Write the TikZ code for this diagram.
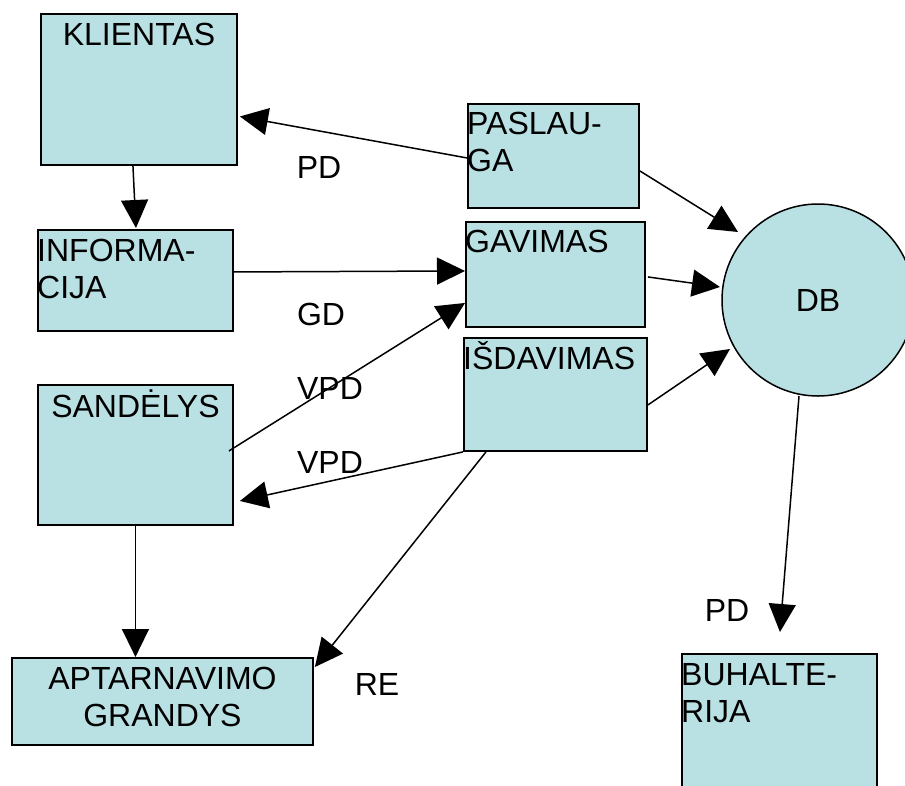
\documentclass[tikz,border=0pt]{standalone}
\usepackage{fontspec}
\setmainfont{Liberation Sans}
\usetikzlibrary{arrows.meta}
\definecolor{boxfill}{RGB}{185,224,227}
% two-line captions whose baseline is that of the first line
\newcommand{\linesleft}[2]{\vtop{\hbox{#1}\hbox{#2}}}
\newcommand{\linescentre}[2]{\vtop{\halign{\hfil##\hfil\cr#1\cr#2\cr}}}
\begin{document}
\begin{tikzpicture}[x=1pt, y=-1pt,
  font=\fontsize{32}{37}\selectfont,
  box/.style={draw, line width=1.9pt, fill=boxfill, rectangle, inner sep=0pt, anchor=north west},
  store/.style={draw, line width=1.5pt, fill=boxfill, circle, inner sep=0pt, minimum size=192pt},
  txt/.style={inner sep=0pt, anchor=base west},
  ctxt/.style={inner sep=0pt, anchor=base},
  flow/.style={line width=1.5pt, -{Triangle[length=28pt,width=27pt]}}]
\useasboundingbox (0,0) rectangle (905,785);

% processes and external entities
\node[box, minimum width=196pt, minimum height=151pt] (klientas)    at (40,13)  {};
\node[box, minimum width=195pt, minimum height=101pt] (informacija) at (37,229) {};
\node[box, minimum width=171pt, minimum height=104pt] (paslauga)    at (467,103) {};
\node[box, minimum width=179pt, minimum height=105pt] (gavimas)     at (465,221) {};
\node[box, minimum width=183pt, minimum height=113pt] (isdavimas)   at (463,337) {};
\node[box, minimum width=195pt, minimum height=140pt] (sandelys)    at (37,384) {};
\node[box, minimum width=301pt, minimum height=87pt]  (aptarnavimo) at (11,657) {};
\node[box, minimum width=195pt, minimum height=150pt] (buhalterija) at (681,653) {};

% data store
\node[store] (db) at (818,300) {DB};

% captions
\node[ctxt] (t-klientas)    at ([yshift=-32pt]klientas.north) {KLIENTAS};
\node[txt]  (t-informacija) at ([yshift=-32pt]informacija.north west) {\linesleft{INFORMA-}{CIJA}};
\node[txt]  (t-paslauga)    at ([yshift=-31pt]paslauga.north west) {\linesleft{PASLAU-}{GA}};
\node[txt]  (t-gavimas)     at ([yshift=-31pt]gavimas.north west) {GAVIMAS};
\node[txt]  (t-isdavimas)   at ([yshift=-32pt]isdavimas.north west) {IŠDAVIMAS};
\node[ctxt] (t-sandelys)    at ([yshift=-33pt]sandelys.north) {SANDĖLYS};
\node[ctxt] (t-aptarnavimo) at ([yshift=-32pt]aptarnavimo.north) {\linescentre{APTARNAVIMO}{GRANDYS}};
\node[txt]  (t-buhalterija) at ([yshift=-32pt]buhalterija.north west) {\linesleft{BUHALTE-}{RIJA}};

% data flows
\draw[flow] ([shift={(0,2)}]paslauga.west) -- ([shift={(2,27)}]klientas.east);
\draw[flow] ([shift={(-6,0)}]klientas.south) -- ([shift={(0.5,-1)}]informacija.north);
\draw[flow] ([shift={(0,-8.5)}]informacija.east) -- ([shift={(0,-3.5)}]gavimas.west);
\draw[flow] ([shift={(-5,-4)}]sandelys.east) -- ([shift={(0,28.5)}]gavimas.west);
\draw[flow] (isdavimas.south west) -- ([shift={(6,46)}]sandelys.east);
\draw[flow] ([shift={(23,0)}]isdavimas.south west) -- ([shift={(1,10)}]aptarnavimo.north east);
\draw[flow] (sandelys.south) -- (sandelys.south |- aptarnavimo.north);
\draw[flow] ([shift={(0,15)}]paslauga.east) -- ([shift={(-80,-68)}]db.center);
\draw[flow] ([shift={(2,2.5)}]gavimas.east) -- ([shift={(-98,-13)}]db.center);
\draw[flow] ([shift={(0,10.5)}]isdavimas.east) -- ([shift={(-88,49)}]db.center);
\draw[flow] ([shift={(-19,96)}]db.center) -- ([shift={(0.5,-21)}]buhalterija.north);

% flow labels
\node[ctxt] (l-pd1)  at (319,178) {PD};
\node[ctxt] (l-gd)   at (321,325) {GD};
\node[ctxt] (l-vpd1) at (330,399) {VPD};
\node[ctxt] (l-vpd2) at (330,473) {VPD};
\node[ctxt] (l-re)   at (377,695) {RE};
\node[ctxt] (l-pd2)  at (727,621) {PD};
\end{tikzpicture}
\end{document}
